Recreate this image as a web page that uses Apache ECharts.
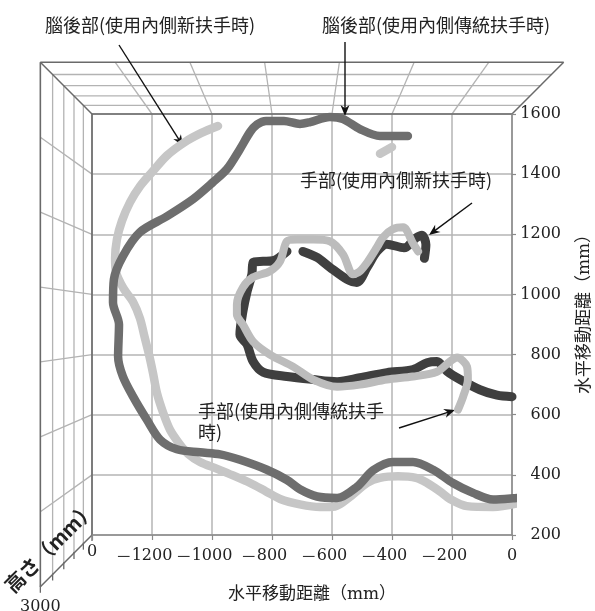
<!DOCTYPE html>
<html>
<head>
<meta charset="utf-8">
<script src="https://cdn.jsdelivr.net/npm/echarts@6/dist/echarts.min.js"></script>
<style>
  html, body { margin: 0; padding: 0; background: #fff; }
  #chart { width: 595px; height: 611px; }
</style>
</head>
<body>
<div id="chart"></div>
<script>
// [水平移動距離 x, 水平移動距離 y] in mm
const headNew = [
  [-980, 1560], [-1035, 1537], [-1090, 1507], [-1150, 1462], [-1197, 1410], [-1240, 1360],
  [-1273, 1307], [-1300, 1245], [-1317, 1183], [-1323, 1120], [-1320, 1075], [-1295, 1020],
  [-1263, 975], [-1240, 920], [-1225, 860], [-1210, 800], [-1197, 740], [-1183, 670],
  [-1163, 607], [-1140, 550], [-1110, 505], [-1080, 470], [-1040, 443], [-983, 420],
  [-930, 398], [-873, 373], [-820, 345], [-773, 320], [-707, 302], [-640, 293], [-590, 295],
  [-540, 327], [-483, 373], [-440, 390], [-380, 395], [-320, 390], [-283, 373], [-240, 345],
  [-207, 320], [-150, 296], [-63, 293], [17, 305], [55, 320]
];
const headNewBit = [[-440, 1468], [-400, 1490]];
const headOld = [
  [-347, 1527], [-440, 1527], [-507, 1550], [-563, 1583], [-607, 1590], [-673, 1573],
  [-707, 1567], [-760, 1577], [-820, 1577], [-850, 1565], [-873, 1540], [-907, 1483],
  [-950, 1417], [-997, 1373], [-1063, 1317], [-1150, 1260], [-1240, 1207], [-1297, 1127],
  [-1327, 1050], [-1330, 973], [-1310, 900], [-1313, 793], [-1297, 727], [-1263, 660],
  [-1217, 583], [-1173, 517], [-1117, 485], [-1040, 475], [-973, 468], [-907, 450],
  [-817, 417], [-750, 383], [-707, 352], [-650, 328], [-583, 323], [-517, 360], [-463, 415],
  [-397, 443], [-330, 443], [-263, 417], [-197, 373], [-130, 340], [-63, 318], [3, 322], [50, 327]
];
const handNewA = [
  [0, 660], [-50, 665], [-107, 683], [-173, 717], [-217, 745], [-250, 777], [-283, 773],
  [-330, 750], [-417, 740], [-507, 723], [-583, 710], [-663, 717], [-750, 727], [-830, 742],
  [-863, 777], [-883, 833], [-907, 867], [-897, 943], [-883, 1010], [-867, 1067], [-863, 1107],
  [-830, 1110], [-797, 1112], [-773, 1125], [-750, 1143]
];
const handNewB = [
  [-697, 1143], [-650, 1123], [-607, 1090], [-550, 1050], [-517, 1040], [-483, 1090],
  [-450, 1143], [-417, 1167], [-360, 1155], [-320, 1188], [-300, 1197], [-287, 1165], [-292, 1120]
];
const handOld = [
  [-313, 1143], [-330, 1170], [-363, 1223], [-397, 1217], [-430, 1190], [-450, 1157],
  [-480, 1110], [-507, 1077], [-530, 1067], [-563, 1133], [-607, 1177], [-663, 1183],
  [-717, 1183], [-750, 1177], [-773, 1110], [-807, 1077], [-863, 1057], [-897, 1023],
  [-917, 967], [-917, 933], [-897, 900], [-863, 843], [-807, 800], [-730, 760], [-663, 717],
  [-583, 693], [-507, 700], [-417, 717], [-330, 727], [-250, 743], [-207, 777], [-183, 790],
  [-150, 760], [-147, 717], [-163, 660], [-180, 617]
];
// 高さ axis (depth), drawn as a perspective box around the grid
const depthTicks = [0, 600, 1200, 1800, 2400, 3000];
const depthLabels = ['0', '', '', '', '', '3000'];

const xMin = -1400, xMax = 0, yMin = 200, yMax = 1600, step = 200;
const numFont = '"DejaVu Serif", "Noto Sans CJK TC", serif';
const cjkFont = '"Noto Sans CJK TC", sans-serif';

const chart = echarts.init(document.getElementById('chart'));

function lineSeries(data, color, width, z) {
  return {
    type: 'line', data: data, z: z, showSymbol: false, smooth: 0.3, clip: false,
    lineStyle: { color: color, width: width, cap: 'round', join: 'round' }
  };
}

const option = {
  animation: false,
  grid: { left: 92, right: 83, top: 114, bottom: 76 },
  xAxis: {
    type: 'value', min: xMin, max: xMax, interval: step,
    axisLine: { show: true, lineStyle: { color: '#8a8a8a', width: 1.5 } },
    axisTick: { show: true, length: 5, lineStyle: { color: '#8a8a8a', width: 1.2 } },
    splitLine: { show: true, lineStyle: { color: '#b5b5b5', width: 1.5 } },
    axisLabel: {
      margin: 13, color: '#222', fontFamily: numFont, fontSize: 16,
      formatter: function (v) {
        if (v === xMin) return '';
        if (v === 0) return '{n|0}';
        return '{m|－}{n|' + (-v) + '}{s| }';
      },
      rich: {
        n: { fontFamily: numFont, fontSize: 16, color: '#222' },
        m: { fontFamily: cjkFont, fontSize: 16, color: '#333', width: 16 },
        s: { fontSize: 16, width: 16 }
      }
    }
  },
  yAxis: {
    type: 'value', position: 'right', min: yMin, max: yMax, interval: step,
    axisLine: { show: true, lineStyle: { color: '#8a8a8a', width: 1.5 } },
    axisTick: { show: true, length: 4, lineStyle: { color: '#8a8a8a', width: 1.2 } },
    splitLine: { show: true, lineStyle: { color: '#b5b5b5', width: 1.5 } },
    axisLabel: {
      align: 'right', margin: 49, color: '#222', fontFamily: numFont, fontSize: 16,
      formatter: function (v) { return String(v); }
    }
  },
  series: [
    lineSeries(headNew, '#c6c6c6', 8.5, 2),
    lineSeries(headNewBit, '#c6c6c6', 8.5, 2),
    lineSeries(headOld, '#6e6e6e', 8.5, 3),
    lineSeries(handNewA, '#3f3f3f', 9, 4),
    lineSeries(handNewB, '#3f3f3f', 9, 4),
    lineSeries(handOld, '#bcbcbc', 8, 5)
  ]
};
chart.setOption(option);

function buildGraphic() {
  const c = chart.convertToPixel({ gridIndex: 0 }, [(xMin + xMax) / 2, (yMin + yMax) / 2]);
  const proj = function (x, y, d) {
    const p = chart.convertToPixel({ gridIndex: 0 }, [x, y]);
    const s = 1 / (1 - 0.1974 * d / 3000);
    return [c[0] + s * (p[0] - c[0]), c[1] + s * (p[1] - c[1])];
  };
  const els = [];
  const seg = function (a, b, color, w) {
    els.push({ type: 'line', silent: true, shape: { x1: a[0], y1: a[1], x2: b[0], y2: b[1] },
      style: { stroke: color, lineWidth: w } });
  };
  const light = '#b3b3b3', dark = '#6a6a6a';
  const dMax = depthTicks[depthTicks.length - 1];

  // ceiling
  for (let x = xMin + step; x < xMax; x += step) seg(proj(x, yMax, 0), proj(x, yMax, dMax), light, 1.3);
  depthTicks.forEach(function (d, i) {
    const edge = i === 0 || i === depthTicks.length - 1;
    seg(proj(xMin, yMax, d), proj(xMax, yMax, d), edge ? dark : light, edge ? 1.6 : 1.3);
  });
  seg(proj(xMax, yMax, 0), proj(xMax, yMax, dMax), dark, 1.5);

  // left wall
  for (let y = yMin + step; y < yMax; y += step) seg(proj(xMin, y, 0), proj(xMin, y, dMax), light, 1.3);
  depthTicks.forEach(function (d, i) {
    const edge = i === 0 || i === depthTicks.length - 1;
    seg(proj(xMin, yMin, d), proj(xMin, yMax, d), edge ? dark : light, edge ? 1.6 : 1.3);
  });
  seg(proj(xMin, yMax, 0), proj(xMin, yMax, dMax), dark, 1.5);
  seg(proj(xMin, yMin, 0), proj(xMin, yMin, dMax), dark, 1.5);

  // depth ticks and labels
  depthTicks.forEach(function (d, i) {
    const p = proj(xMin, yMin, d);
    seg([p[0], p[1] - 1], [p[0], p[1] + 6], dark, 1.3);
    if (depthLabels[i]) {
      els.push({ type: 'text', silent: true, x: p[0], y: p[1] + (i === 0 ? 17 : 20),
        style: { text: depthLabels[i], font: '16px ' + numFont, fill: '#222',
          textAlign: 'center', align: 'center', textVerticalAlign: 'middle', verticalAlign: 'middle' } });
    }
  });

  const text = function (str, x, y, opt) {
    opt = opt || {};
    els.push({ type: 'text', silent: true, x: x, y: y, rotation: opt.rotation || 0,
      style: { text: str, font: (opt.weight || 'normal') + ' ' + (opt.size || 18) + 'px ' + (opt.family || cjkFont),
        fill: '#222', lineHeight: opt.lineHeight || 21,
        textAlign: opt.align || 'left', align: opt.align || 'left',
        textVerticalAlign: 'middle', verticalAlign: 'middle' } });
  };
  text('腦後部(使用內側新扶手時)', 45, 25);
  text('腦後部(使用內側傳統扶手時)', 322, 25);
  text('手部(使用內側新扶手時)', 300, 180);
  text('手部(使用內側傳統扶手\n時)', 198, 422);
  text('水平移動距離（mm）', 312, 595, { align: 'center', family: numFont, size: 17 });
  text('水平移動距離（mm）', 585, 310, { align: 'center', family: numFont, size: 17, rotation: Math.PI / 2 });
  text('高さ（mm）', 50, 547, { align: 'center', family: '"Noto Sans CJK JP", sans-serif',
    size: 20, weight: 'bold', rotation: Math.PI / 4 });

  const arrow = function (x1, y1, x2, y2) {
    const dx = x2 - x1, dy = y2 - y1, len = Math.sqrt(dx * dx + dy * dy);
    const ux = dx / len, uy = dy / len, nx = -uy, ny = ux;
    const L = 11, W = 4.5;
    seg([x1, y1], [x2 - ux * 6, y2 - uy * 6], '#111', 1.4);
    els.push({ type: 'polygon', silent: true, shape: { points: [
      [x2, y2], [x2 - ux * L + nx * W, y2 - uy * L + ny * W],
      [x2 - ux * L * 0.7, y2 - uy * L * 0.7], [x2 - ux * L - nx * W, y2 - uy * L - ny * W]
    ] }, style: { fill: '#111' } });
  };
  arrow(119, 45, 183, 146);
  arrow(345, 42, 345, 116);
  arrow(472, 203, 429, 235);
  arrow(399, 428, 455, 410);

  chart.setOption({ graphic: { elements: els } });
}
buildGraphic();
</script>
</body>
</html>
